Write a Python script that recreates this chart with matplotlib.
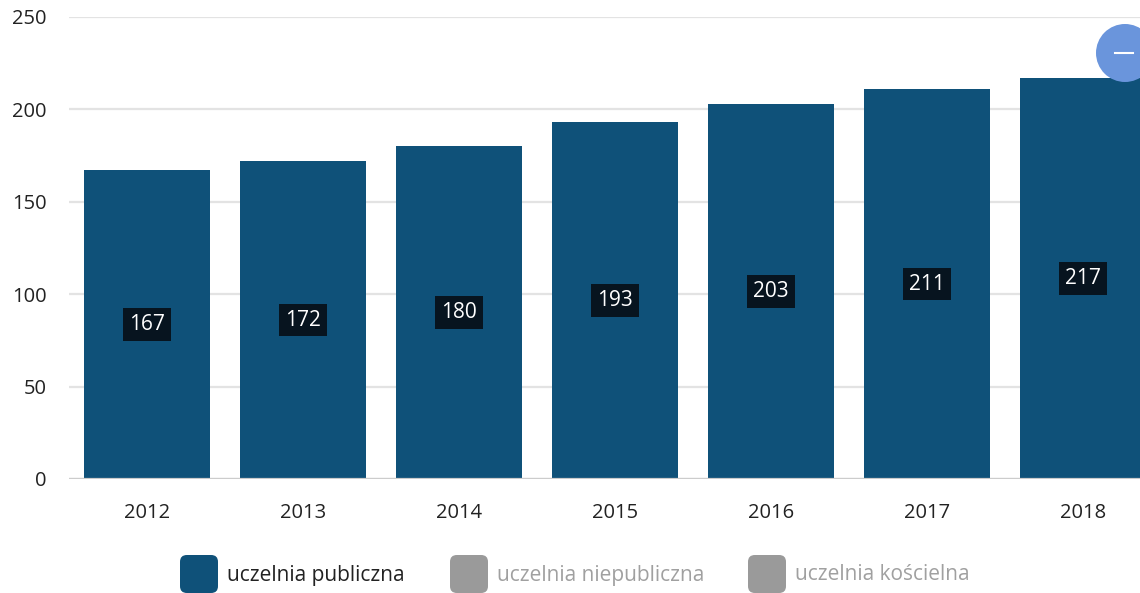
import matplotlib.pyplot as plt
from matplotlib.patches import FancyBboxPatch, Circle
from matplotlib.lines import Line2D

# Number of institutions per year (public universities)
years = ['2012', '2013', '2014', '2015', '2016', '2017', '2018']
publiczna = [167, 172, 180, 193, 203, 211, 217]
legend_labels = ['uczelnia publiczna', 'uczelnia niepubliczna', 'uczelnia kościelna']
legend_colors = ['#0f5179', '#9a9a9a', '#9a9a9a']
legend_text_colors = ['#222222', '#a0a0a0', '#a0a0a0']

plt.rcParams['font.family'] = ['Open Sans', 'DejaVu Sans']

W, H = 1140, 593
fig = plt.figure(figsize=(W / 100, H / 100), dpi=100)
ax = fig.add_axes([69 / W, 1 - 479 / H, 1092 / W, 462 / H])

x = range(len(years))
ax.bar(x, publiczna, width=0.81, color='#0f5179', zorder=2)

ax.set_xlim(-0.5, 6.5)
ax.set_ylim(0, 250)
ax.set_yticks([0, 50, 100, 150, 200, 250])
ax.set_xticks(list(x))
ax.set_xticklabels(years)
ax.tick_params(length=0, labelsize=14.5, colors='#222222')
ax.tick_params(axis='x', pad=17)
ax.tick_params(axis='y', pad=16)
ax.grid(axis='y', color='#e3e3e3', linewidth=1.6, zorder=0)
for s in ax.spines.values():
    s.set_visible(False)
ax.axhline(0, color='#cccccc', linewidth=1.6, zorder=3)

# value labels in the middle of each bar
for xi, v in zip(x, publiczna):
    ax.text(xi, v / 2, str(v), ha='center', va='center', color='white', fontsize=15,
            zorder=4,
            bbox=dict(boxstyle='square,pad=0.28', facecolor='#07141f', edgecolor='none'))

# legend along the bottom
lx = [180, 450, 748]
for px, lab, col, tcol in zip(lx, legend_labels, legend_colors, legend_text_colors):
    fig.patches.append(FancyBboxPatch((px / W, 1 - 593 / H), 38 / W, 38 / H,
                                      boxstyle='round,pad=0,rounding_size=0.006',
                                      transform=fig.transFigure, facecolor=col,
                                      edgecolor='none', mutation_aspect=W / H))
    fig.text((px + 47) / W, 1 - 575 / H, lab, ha='left', va='center', fontsize=15,
             color=tcol)

# collapse button in the top right corner
fig.patches.append(Circle((11.25, (H - 53) / 100), 0.29, transform=fig.dpi_scale_trans,
                          facecolor='#6a95dc', edgecolor='none', zorder=5))
fig.lines.append(Line2D([1115 / W, 1133 / W], [1 - 53 / H, 1 - 53 / H],
                        transform=fig.transFigure, color='white', linewidth=1.5,
                        zorder=6))

fig.savefig('out.png', dpi=100)
